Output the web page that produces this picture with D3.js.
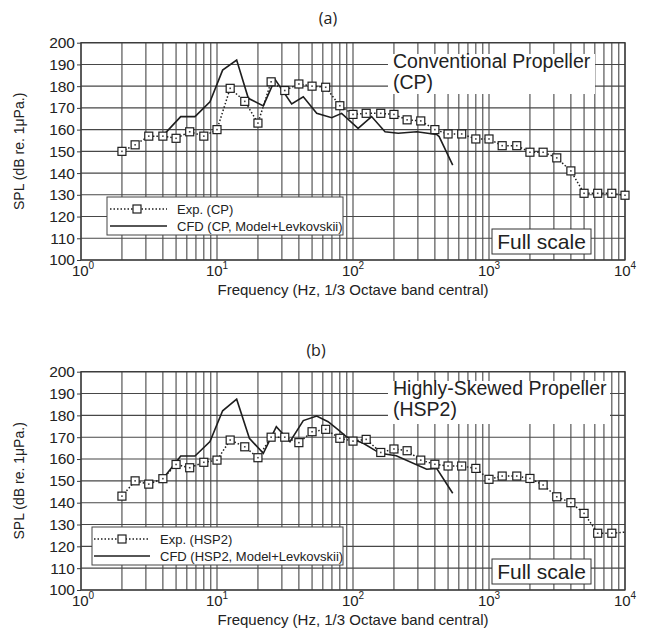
<!DOCTYPE html>
<html><head><meta charset="utf-8">
<script src="https://cdn.jsdelivr.net/npm/d3@7"></script>
<style>body{margin:0;background:#fff}svg{display:block}</style>
</head><body><svg id="c" width="649" height="633"></svg>
<script>
// 1/3-octave band centre frequencies (Hz)
const freqs = [2,2.5,3.15,4,5,6.3,8,10,12.5,16,20,25,31.5,40,50,63,80,100,125,160,200,250,315,400,500,630,800,1000,1250,1600,2000,2500,3150,4000,5000,6300,8000,10000];
// Experimental SPL, conventional propeller (dB)
const expCP = [150,153,157,157,156,159,157,160,179,173,163,182,178,181,180,179.5,171,167,167.5,167.5,167,164.5,164,160,158,158,155.7,155.7,152.6,152.6,149.6,149.6,147,141,130.7,130.7,130.7,129.8];
// Experimental SPL, highly-skewed propeller (dB)
const expHSP2 = [143,150,148.5,151,157.5,156,158.5,159.5,168.7,165.6,160.6,170,170,167.5,172.5,173.6,169.5,168.2,169,163,164.6,163.8,159.5,157.6,156.8,156.8,155.7,150.7,152.2,152.2,151.1,148.1,142.7,140,135.1,126,126,126.5];
// CFD curves
const cfdCPFreq = [4.2,5.41,6.89,8.88,11.0,13.95,17.0,21.9,26.7,35.4,43.1,54.1,69.7,82.5,109,137,172,215,294,412,430,541];
const cfdCPVal  = [158.6,166,166,172.8,187.4,192,174.4,170.9,183.1,171.8,175.1,167.5,165.5,167.5,160.6,166,159,158.3,159,157.8,156.8,143.7];
const cfdHSPFreq = [4.0,4.91,5.41,6.89,8.88,11.0,13.95,17.3,21.9,27.3,34.4,43.1,54.1,65.6,78,89.6,119,158,208,348,412,541];
const cfdHSPVal  = [151,158,161.4,161.4,168,182.1,187.4,169.5,162.6,174.8,167.9,177.6,179.7,177.1,173.3,170.2,167.2,162.6,161.5,155.3,155.7,144.3];
// Axis ticks / labels
const yTickValues = [100,110,120,130,140,150,160,170,180,190,200];
const xTickExponents = [0,1,2,3,4];
const panelTitles = ["(a)","(b)"];
const propellerNames = [["Conventional Propeller","(CP)"],["Highly-Skewed Propeller","(HSP2)"]];
const legendLabels = [["Exp. (CP)","CFD (CP, Model+Levkovskii)"],["Exp. (HSP2)","CFD (HSP2, Model+Levkovskii)"]];
const scaleLabel = "Full scale";
const xLabel = "Frequency (Hz, 1/3 Octave band central)";
const yLabel = "SPL (dB re. 1\u03bcPa.)";

const svg = d3.select("#c");
const FONT = "'Liberation Sans', Arial, sans-serif";
const GRID = "#474747", INK = "#1e1e1e";

const panels = [
  {top:42.7, bottom:260, titleX:328, titleY:24, exp:expCP, cf:cfdCPFreq, cv:cfdCPVal, nameBox:[388,54,207,40], legend:[107,197,236,38], legMarkX:137, legLine:[110,167], legText:177, fullBoxY:229, markerLast:true},
  {top:371.7, bottom:590, titleX:316, titleY:356, exp:expHSP2, cf:cfdHSPFreq, cv:cfdHSPVal, nameBox:[388,381,222,43], legend:[92,527,251,38], legMarkX:122, legLine:[94,150], legText:160, fullBoxY:559, markerLast:false}
];
const L = 81, R = 625;

panels.forEach((p, pi) => {
  const g = svg.append("g");
  const x = d3.scaleLog().domain([1, 1e4]).range([L, R]);
  const y = d3.scaleLinear().domain([100, 200]).range([p.bottom, p.top]);

  g.append("text").attr("x", p.titleX).attr("y", p.titleY).attr("text-anchor","middle")
    .attr("font-family","'Open Sans', 'Noto Sans', sans-serif").attr("font-size",16).attr("fill","#222").text(panelTitles[pi]);

  // grid
  const minor = [];
  for (let k = 0; k < 4; k++) for (let m = 1; m <= 9; m++) minor.push(m * Math.pow(10, k));
  minor.push(1e4);
  g.append("g").selectAll("line").data(minor).join("line")
    .attr("x1", d => x(d)).attr("x2", d => x(d)).attr("y1", p.top).attr("y2", p.bottom)
    .attr("stroke", GRID).attr("stroke-width", 1.1);
  g.append("g").selectAll("line").data(yTickValues).join("line")
    .attr("x1", L).attr("x2", R).attr("y1", d => y(d)).attr("y2", d => y(d))
    .attr("stroke", GRID).attr("stroke-width", 1.1);
  g.append("rect").attr("x", L).attr("y", p.top).attr("width", R - L).attr("height", p.bottom - p.top)
    .attr("fill","none").attr("stroke","#3a3a3a").attr("stroke-width",1.3);

  // y axis
  const ya = g.append("g").attr("transform", `translate(${L},0)`)
    .call(d3.axisLeft(y).tickValues(yTickValues).tickSize(4).tickPadding(2).tickFormat(d3.format("d")));
  ya.select(".domain").remove();
  ya.selectAll("line").attr("stroke","#3a3a3a");
  ya.selectAll("text").attr("font-family", FONT).attr("font-size", 15.5).attr("fill","#222");

  // x axis labels 10^k
  const xl = g.append("g");
  xTickExponents.forEach(e => {
    const t = xl.append("text").attr("x", x(Math.pow(10, e)) + (e === 0 ? 2 : 0)).attr("y", p.bottom + 16)
      .attr("text-anchor","middle").attr("font-family", FONT).attr("font-size", 15).attr("fill","#222");
    t.append("tspan").text("10");
    t.append("tspan").attr("dy", -7).attr("font-size", 10).text(String(e));
  });
  g.append("text").attr("x", 353).attr("y", p.bottom + 35).attr("text-anchor","middle")
    .attr("font-family", FONT).attr("font-size", 15).attr("fill","#222").text(xLabel);
  g.append("text").attr("transform", `translate(24,${(p.top + p.bottom) / 2}) rotate(-90)`)
    .attr("text-anchor","middle").attr("font-family", FONT).attr("font-size", 14).attr("fill","#222").text(yLabel);

  // name box
  const nb = p.nameBox;
  g.append("rect").attr("x", nb[0]).attr("y", nb[1]).attr("width", nb[2]).attr("height", nb[3]).attr("fill","#fff");
  g.append("text").attr("x", nb[0] + 5).attr("y", nb[1] + 14).attr("font-family", FONT).attr("font-size", 19.5).attr("fill","#222").text(propellerNames[pi][0]);
  g.append("text").attr("x", nb[0] + 5).attr("y", nb[1] + 35).attr("font-family", FONT).attr("font-size", 19.5).attr("fill","#222").text(propellerNames[pi][1]);

  // full scale box
  g.append("rect").attr("x", 492).attr("y", p.fullBoxY).attr("width", 99).attr("height", 25).attr("fill","#fff").attr("stroke","#333").attr("stroke-width",1);
  g.append("text").attr("x", 541.5).attr("y", p.fullBoxY + 20).attr("text-anchor","middle").attr("font-family", FONT).attr("font-size", 21).attr("fill","#222").text(scaleLabel);

  // data: CFD solid
  const line = d3.line().x(d => x(d[0])).y(d => y(d[1]));
  g.append("path").datum(p.cf.map((f, i) => [f, p.cv[i]])).attr("d", line)
    .attr("fill","none").attr("stroke", INK).attr("stroke-width", 1.6);
  // Exp dotted
  const ep = freqs.map((f, i) => [f, p.exp[i]]);
  g.append("path").datum(ep).attr("d", line).attr("fill","none").attr("stroke", INK)
    .attr("stroke-width", 1.5).attr("stroke-dasharray","1.5,2");
  const mk = p.markerLast ? ep : ep.slice(0, -1);
  const ms = g.append("g").selectAll("g").data(mk).join("g")
    .attr("transform", d => `translate(${x(d[0])},${y(d[1])})`);
  ms.append("rect").attr("x", -4).attr("y", -4).attr("width", 8).attr("height", 8)
    .attr("fill","#fff").attr("stroke", INK).attr("stroke-width", 1.2);
  ms.append("rect").attr("x", -0.8).attr("y", -0.8).attr("width", 1.6).attr("height", 1.6).attr("fill", "#444");

  // legend
  const lg = p.legend;
  g.append("rect").attr("x", lg[0]).attr("y", lg[1]).attr("width", lg[2]).attr("height", lg[3])
    .attr("fill","#fff").attr("stroke","#444").attr("stroke-width",1);
  const ly1 = lg[1] + 12, ly2 = lg[1] + 29;
  g.append("line").attr("x1", p.legLine[0]).attr("x2", p.legLine[1]).attr("y1", ly1).attr("y2", ly1)
    .attr("stroke", INK).attr("stroke-width", 1.5).attr("stroke-dasharray","1.5,2");
  g.append("rect").attr("x", p.legMarkX - 4).attr("y", ly1 - 4).attr("width", 8).attr("height", 8)
    .attr("fill","#fff").attr("stroke", INK).attr("stroke-width", 1.2);
  g.append("line").attr("x1", p.legLine[0]).attr("x2", p.legLine[1]).attr("y1", ly2).attr("y2", ly2)
    .attr("stroke", INK).attr("stroke-width", 1.6);
  g.append("text").attr("x", p.legText).attr("y", ly1 + 5).attr("font-family", FONT).attr("font-size", 13).attr("fill","#222").text(legendLabels[pi][0]);
  g.append("text").attr("x", p.legText).attr("y", ly2 + 5).attr("font-family", FONT).attr("font-size", 13).attr("fill","#222").text(legendLabels[pi][1]);
});
</script></body></html>
